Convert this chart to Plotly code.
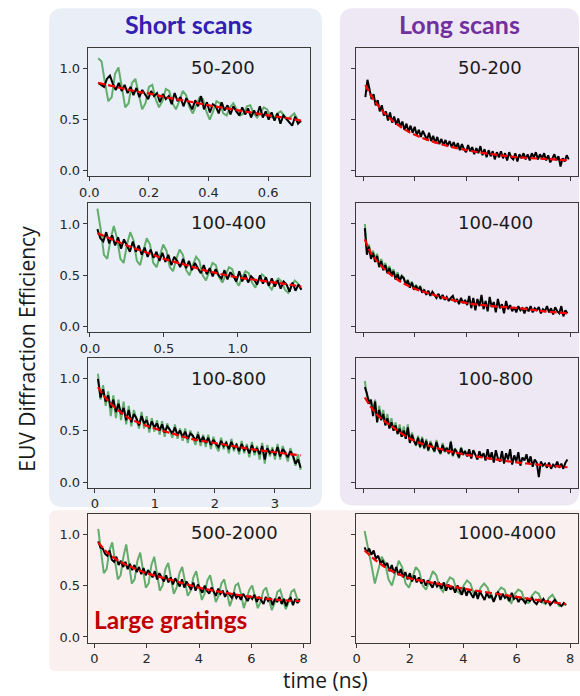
import numpy as np
import plotly.graph_objects as go

W, H = 580, 696

# ---------------- data ----------------
# Short scans, 50-200
a_t = (0.03, 0.71)
a_black = [0.86,0.84,0.82,0.90,0.93,0.85,0.79,0.86,0.78,0.84,
           0.76,0.82,0.74,0.81,0.72,0.79,0.75,0.70,0.78,0.73,
           0.76,0.67,0.75,0.70,0.73,0.65,0.76,0.68,0.72,0.63,
           0.71,0.66,0.60,0.69,0.63,0.73,0.60,0.67,0.57,0.65,
           0.63,0.56,0.67,0.59,0.64,0.55,0.63,0.58,0.54,0.62,
           0.55,0.61,0.52,0.59,0.54,0.63,0.52,0.58,0.50,0.57,
           0.49,0.56,0.46,0.54,0.51,0.48,0.44,0.53,0.46,0.49]
a_green = [1.10,1.07,0.86,0.68,0.72,0.95,1.01,0.82,0.62,0.66,
           0.86,0.90,0.74,0.60,0.66,0.82,0.84,0.70,0.62,0.68,
           0.80,0.78,0.66,0.60,0.68,0.78,0.74,0.62,0.56,0.64,
           0.72,0.70,0.58,0.50,0.58,0.68,0.66,0.56,0.54,0.62,
           0.66,0.60,0.54,0.56,0.63,0.64,0.56,0.52,0.57,0.62,
           0.60,0.53,0.51,0.56,0.58,0.54,0.50,0.53,0.56,0.50,0.47]
a_fit_t = [0.03,0.09,0.15,0.21,0.27,0.33,0.40,0.46,0.52,0.58,0.65,0.71]
a_fit = [0.86,0.82,0.78,0.75,0.71,0.68,0.64,0.61,0.58,0.55,0.52,0.49]

# Short scans, 100-400
b_t = (0.05, 1.43)
b_black = [0.95,0.86,0.83,0.92,0.81,0.89,0.79,0.87,0.76,0.85,
           0.79,0.73,0.83,0.73,0.79,0.70,0.77,0.68,0.75,0.67,
           0.73,0.64,0.72,0.63,0.70,0.60,0.68,0.64,0.58,0.66,
           0.57,0.64,0.55,0.62,0.57,0.52,0.60,0.51,0.57,0.49,
           0.56,0.50,0.47,0.55,0.46,0.53,0.49,0.44,0.54,0.44,
           0.51,0.43,0.49,0.46,0.41,0.50,0.42,0.48,0.40,0.47,
           0.39,0.45,0.37,0.44,0.41,0.34,0.43,0.35,0.41,0.36]
b_green = [1.15,0.95,0.70,0.66,0.85,0.98,0.86,0.66,0.62,0.80,
           0.92,0.84,0.64,0.60,0.74,0.86,0.80,0.62,0.58,0.70,
           0.80,0.74,0.58,0.54,0.66,0.75,0.70,0.55,0.50,0.60,
           0.68,0.64,0.50,0.45,0.54,0.62,0.60,0.48,0.43,0.50,
           0.58,0.56,0.45,0.40,0.48,0.54,0.52,0.43,0.38,0.45,
           0.51,0.48,0.40,0.36,0.43,0.47,0.44,0.36,0.33,0.40,
           0.45,0.42,0.36]
b_fit_t = [0.05,0.15,0.25,0.35,0.50,0.65,0.80,1.00,1.15,1.30,1.43]
b_fit = [0.91,0.85,0.79,0.74,0.66,0.60,0.54,0.48,0.45,0.42,0.39]

# Short scans, 100-800
c_t = (0.05, 3.43)
c_black = [1.00,0.82,0.90,0.78,0.84,0.72,0.80,0.68,0.76,0.66,
           0.72,0.60,0.70,0.58,0.66,0.62,0.55,0.64,0.57,0.60,
           0.52,0.59,0.53,0.57,0.50,0.56,0.48,0.54,0.51,0.47,
           0.53,0.46,0.50,0.44,0.49,0.42,0.47,0.45,0.40,0.46,
           0.39,0.44,0.38,0.43,0.36,0.41,0.37,0.34,0.40,0.35,
           0.38,0.32,0.39,0.33,0.36,0.30,0.37,0.31,0.34,0.28,
           0.36,0.29,0.33,0.27,0.35,0.22,0.33,0.28,0.31,0.26,
           0.34,0.25,0.32,0.29,0.24,0.30,0.26,0.18,0.22,0.14]
c_green = [1.05,0.80,0.94,0.74,0.88,0.64,0.84,0.62,0.80,0.60,
           0.78,0.56,0.74,0.54,0.70,0.60,0.52,0.68,0.52,0.64,
           0.48,0.62,0.49,0.60,0.46,0.59,0.44,0.57,0.50,0.43,
           0.56,0.42,0.52,0.40,0.52,0.38,0.50,0.44,0.36,0.49,
           0.35,0.46,0.34,0.46,0.32,0.44,0.35,0.30,0.43,0.32,
           0.40,0.28,0.42,0.30,0.38,0.27,0.40,0.28,0.37,0.24,
           0.39,0.26,0.35,0.22,0.38,0.18,0.36,0.25,0.34,0.22,
           0.37,0.22,0.35,0.28,0.20,0.33,0.24,0.16,0.27,0.12]
c_fit_t = [0.05,0.2,0.4,0.6,0.8,1.0,1.3,1.6,2.0,2.5,3.0,3.43]
c_fit = [0.92,0.80,0.69,0.61,0.56,0.52,0.47,0.42,0.38,0.33,0.29,0.26]

# Large gratings, 500-2000
d_t = (0.15, 7.85)
d_black = [0.93,0.87,0.86,0.81,0.79,0.84,0.75,0.73,0.78,0.70,
           0.74,0.68,0.73,0.66,0.71,0.65,0.70,0.63,0.68,0.61,
           0.67,0.60,0.65,0.62,0.58,0.64,0.56,0.62,0.58,0.54,
           0.60,0.53,0.58,0.51,0.57,0.53,0.49,0.56,0.48,0.54,
           0.50,0.46,0.53,0.45,0.51,0.47,0.43,0.50,0.45,0.42,
           0.48,0.44,0.40,0.47,0.42,0.45,0.39,0.44,0.41,0.38,
           0.43,0.38,0.41,0.36,0.42,0.38,0.35,0.40,0.37,0.41,
           0.34,0.39,0.36,0.32,0.39,0.35,0.38,0.31,0.37,0.34,
           0.39,0.32,0.37,0.30,0.36,0.38,0.31,0.37,0.33,0.37]
d_green = [1.05,0.84,0.62,0.66,0.84,0.92,0.74,0.56,0.60,0.78,
           0.90,0.70,0.52,0.56,0.74,0.82,0.64,0.48,0.52,0.70,
           0.78,0.60,0.45,0.50,0.66,0.72,0.56,0.42,0.48,0.62,
           0.68,0.54,0.40,0.45,0.58,0.64,0.50,0.36,0.42,0.55,
           0.60,0.47,0.34,0.40,0.52,0.56,0.44,0.30,0.38,0.50,
           0.52,0.42,0.28,0.36,0.46,0.50,0.40,0.28,0.34,0.45,
           0.48,0.38,0.26,0.33,0.44,0.46,0.36,0.27,0.34,0.44,
           0.46,0.38,0.34]
d_fit_t = [0.15,0.5,1.0,1.5,2.0,3.0,4.0,5.0,6.0,7.0,7.85]
d_fit = [0.92,0.82,0.73,0.67,0.62,0.55,0.48,0.43,0.39,0.36,0.35]

# Long scans, 50-200
e_t = (0.09, 7.95)
e_black = [0.72,0.89,0.80,0.70,0.75,0.64,0.69,0.58,0.64,0.54,
           0.58,0.49,0.57,0.47,0.53,0.45,0.51,0.43,0.48,0.40,
           0.46,0.38,0.44,0.37,0.43,0.35,0.40,0.33,0.39,0.35,
           0.30,0.37,0.29,0.34,0.27,0.33,0.26,0.31,0.25,0.30,
           0.24,0.29,0.23,0.28,0.22,0.27,0.20,0.26,0.21,0.18,
           0.25,0.19,0.23,0.16,0.22,0.17,0.24,0.15,0.21,0.13,
           0.20,0.14,0.19,0.11,0.18,0.13,0.19,0.12,0.17,0.10,
           0.18,0.13,0.11,0.17,0.09,0.16,0.12,0.17,0.11,0.16,
           0.10,0.17,0.13,0.18,0.11,0.16,0.12,0.17,0.10,0.15,
           0.08,0.12,0.16,0.10,0.14,0.04,0.12,0.09,0.15,0.11]
e_green = []
e_fit_t = [0.09,0.3,0.6,1.0,1.5,2.0,3.0,4.0,5.0,6.0,7.0,7.95]
e_fit = [0.84,0.74,0.63,0.52,0.42,0.35,0.26,0.20,0.16,0.13,0.115,0.10]

# Long scans, 100-400
f_t = (0.07, 7.9)
f_black = [0.96,0.70,0.78,0.66,0.72,0.63,0.69,0.58,0.64,0.55,
           0.60,0.52,0.57,0.50,0.54,0.46,0.51,0.44,0.49,0.47,
           0.41,0.45,0.38,0.43,0.36,0.40,0.35,0.39,0.33,0.36,
           0.31,0.35,0.30,0.34,0.31,0.28,0.32,0.27,0.31,0.26,
           0.29,0.25,0.28,0.30,0.24,0.27,0.22,0.28,0.23,0.26,
           0.21,0.30,0.18,0.28,0.16,0.27,0.20,0.31,0.17,0.25,
           0.15,0.29,0.19,0.24,0.14,0.27,0.18,0.22,0.13,0.25,
           0.17,0.21,0.15,0.19,0.14,0.20,0.16,0.18,0.13,0.19,
           0.15,0.20,0.14,0.18,0.16,0.19,0.13,0.17,0.15,0.20,
           0.14,0.18,0.12,0.19,0.15,0.13,0.20,0.10,0.16,0.13]
f_green = [1.00,0.74,0.80,0.69,0.74,0.66,0.71,0.60,0.66,0.58,
           0.62,0.55,0.59,0.52,0.56,0.48,0.53,0.46,0.50,0.48,
           0.42,0.46,0.39,0.44,0.37,0.41,0.36,0.40,0.34,0.37]
f_fit_t = [0.07,0.3,0.6,1.0,1.5,2.0,3.0,4.0,5.0,6.0,7.0,7.9]
f_fit = [0.85,0.72,0.62,0.52,0.43,0.37,0.29,0.23,0.20,0.18,0.15,0.13]

# Long scans, 100-800
g_t = (0.07, 7.9)
g_black = [0.92,0.86,0.76,0.80,0.64,0.78,0.58,0.70,0.60,0.66,
           0.55,0.62,0.52,0.58,0.50,0.55,0.47,0.52,0.44,0.50,
           0.42,0.53,0.38,0.46,0.40,0.36,0.43,0.34,0.42,0.33,
           0.40,0.31,0.38,0.34,0.30,0.39,0.32,0.28,0.36,0.30,
           0.33,0.28,0.39,0.26,0.32,0.29,0.24,0.33,0.27,0.30,
           0.25,0.32,0.23,0.31,0.26,0.22,0.30,0.24,0.28,0.21,
           0.32,0.22,0.29,0.19,0.31,0.23,0.20,0.30,0.18,0.28,
           0.22,0.32,0.17,0.26,0.20,0.29,0.16,0.24,0.21,0.27,
           0.18,0.25,0.15,0.22,0.19,0.05,0.20,0.16,0.18,0.14,
           0.19,0.13,0.17,0.15,0.20,0.14,0.18,0.13,0.19,0.22]
g_green = [0.98,0.84,0.80,0.78,0.68,0.80,0.60,0.74,0.62,0.70,
           0.56,0.66,0.53,0.62,0.50,0.58,0.46,0.56,0.44,0.54,
           0.42,0.56,0.38,0.48,0.41,0.35,0.45,0.33,0.44,0.32,
           0.42,0.30,0.40,0.34,0.29,0.41,0.31,0.27,0.38,0.29,
           0.34,0.27,0.40,0.25,0.33,0.28,0.23,0.34,0.26,0.31]
g_fit_t = [0.07,0.3,0.6,1.0,1.5,2.0,3.0,4.0,5.0,6.0,7.0,7.9]
g_fit = [0.82,0.73,0.64,0.56,0.47,0.40,0.32,0.265,0.225,0.19,0.165,0.145]

# Large gratings, 1000-4000
h_t = (0.3, 7.85)
h_black = [0.87,0.82,0.86,0.80,0.84,0.76,0.79,0.72,0.74,0.69,
           0.72,0.64,0.70,0.62,0.68,0.60,0.66,0.58,0.63,0.56,
           0.62,0.54,0.60,0.53,0.58,0.52,0.56,0.50,0.55,0.51,
           0.48,0.54,0.49,0.52,0.47,0.53,0.45,0.51,0.46,0.49,
           0.43,0.50,0.45,0.41,0.48,0.40,0.46,0.42,0.38,0.45,
           0.37,0.44,0.40,0.36,0.43,0.38,0.41,0.34,0.40,0.44,
           0.36,0.42,0.38,0.40,0.35,0.43,0.37,0.39,0.34,0.38,
           0.36,0.33,0.37,0.35,0.38,0.34,0.32,0.36,0.34,0.37,
           0.33,0.35,0.31,0.34,0.36,0.33,0.32,0.30,0.33,0.31]
h_green = [1.03,0.88,0.70,0.52,0.66,0.78,0.72,0.56,0.50,0.62,
           0.74,0.68,0.52,0.48,0.58,0.68,0.64,0.50,0.46,0.56,
           0.64,0.60,0.48,0.44,0.52,0.58,0.56,0.45,0.42,0.50,
           0.55,0.52,0.42,0.40,0.48,0.52,0.48,0.38,0.36,0.44,
           0.48,0.46,0.36,0.33,0.42,0.46,0.44,0.34,0.33,0.40,
           0.44,0.42,0.34,0.32,0.38,0.41,0.36,0.30,0.31,0.32]
h_fit_t = [0.3,0.6,1.0,1.5,2.0,3.0,4.0,5.0,6.0,7.0,7.85]
h_fit = [0.84,0.77,0.69,0.62,0.57,0.52,0.47,0.43,0.39,0.35,0.32]

panel_names = ["50-200", "100-400", "100-800", "500-2000",
               "50-200", "100-400", "100-800", "1000-4000"]
y_ticks = [0.0, 0.5, 1.0]
x_ticks_left = [[0.0, 0.2, 0.4, 0.6], [0.0, 0.5, 1.0], [0, 1, 2, 3], [0, 2, 4, 6, 8]]
x_ticks_right = [0, 2, 4, 6, 8]

# ---------------- layout geometry (pixels) ----------------
def px_x(v):
    return v / W

def px_y(v):
    return 1 - v / H

col_px = [(80, 306), (352, 578.3)]
row_px = [(48.3, 176.7), (204, 333.3), (359.3, 489.3), (515, 644.5)]
x_ranges = [
    [[-0.005, 0.741], [-0.015, 1.49], [-0.12, 3.59], [-0.25, 8.25]],
    [[-0.29, 8.32], [-0.29, 8.32], [-0.29, 8.32], [-0.04, 8.31]],
]
y_range = [-0.055, 1.2]

# (time span of the sampled traces, black trace, green trace, fit times, fit values)
panels = [
    (a_t, a_black, a_green, a_fit_t, a_fit),
    (b_t, b_black, b_green, b_fit_t, b_fit),
    (c_t, c_black, c_green, c_fit_t, c_fit),
    (d_t, d_black, d_green, d_fit_t, d_fit),
    (e_t, e_black, e_green, e_fit_t, e_fit),
    (f_t, f_black, f_green, f_fit_t, f_fit),
    (g_t, g_black, g_green, g_fit_t, g_fit),
    (h_t, h_black, h_green, h_fit_t, h_fit),
]
# green traces that share the black time grid (recorded over the first part only)
partial_green = {5, 6}

GREEN = "#62ad6c"
AXIS = "#3a3a3a"
TICKFONT = dict(family="DejaVu Sans", size=13, color="#262626")

fig = go.Figure()
layout = {}

for k, (t_span, black, green, fit_t, fit) in enumerate(panels):
    col, row = divmod(k, 4)
    n = k + 1
    xa = "x" if n == 1 else f"x{n}"
    ya = "y" if n == 1 else f"y{n}"

    t_black = np.linspace(t_span[0], t_span[1], len(black))
    if green:
        if k in partial_green:
            t_green = t_black[:len(green)]
        else:
            t_green = np.linspace(t_span[0], t_span[1], len(green))
        fig.add_trace(go.Scatter(x=t_green, y=green, mode="lines", xaxis=xa, yaxis=ya,
                                 line=dict(color=GREEN, width=2), showlegend=False))
    fig.add_trace(go.Scatter(x=t_black, y=black, mode="lines", xaxis=xa, yaxis=ya,
                             line=dict(color="black", width=2), showlegend=False))
    fig.add_trace(go.Scatter(x=fit_t, y=fit, mode="lines", xaxis=xa, yaxis=ya,
                             line=dict(color="#ff0000", width=2.2, dash="7px,3px", shape="spline"),
                             showlegend=False))

    x0, x1 = col_px[col]
    y0, y1 = row_px[row]
    if col == 0:
        xt = x_ticks_left[row]
        show_x = True
        fmt = ".1f" if row < 2 else "d"
    else:
        xt = x_ticks_right
        show_x = row == 3
        fmt = "d"
    common = dict(showline=True, mirror=True, linecolor=AXIS, linewidth=1,
                  ticks="outside", ticklen=4, tickwidth=1, tickcolor=AXIS,
                  showgrid=False, zeroline=False, tickfont=TICKFONT)
    layout["xaxis" if n == 1 else f"xaxis{n}"] = dict(
        domain=[px_x(x0), px_x(x1)], range=x_ranges[col][row], anchor=ya,
        tickvals=xt, tickformat=fmt, showticklabels=show_x, **common)
    layout["yaxis" if n == 1 else f"yaxis{n}"] = dict(
        domain=[px_y(y1), px_y(y0)], range=y_range, anchor=xa,
        tickvals=y_ticks, tickformat=".1f", showticklabels=(col == 0), **common)

fig.update_layout(**layout)

# ---------------- background panels ----------------
def rounded_rect(x0, y0, x1, y1, r):
    def P(x, y):
        return f"{px_x(x):.5f},{px_y(y):.5f}"
    return (f"M {P(x0 + r, y0)} L {P(x1 - r, y0)} Q {P(x1, y0)} {P(x1, y0 + r)} "
            f"L {P(x1, y1 - r)} Q {P(x1, y1)} {P(x1 - r, y1)} "
            f"L {P(x0 + r, y1)} Q {P(x0, y1)} {P(x0, y1 - r)} "
            f"L {P(x0, y0 + r)} Q {P(x0, y0)} {P(x0 + r, y0)} Z")

shapes = [
    dict(type="path", path=rounded_rect(40.7, 8.3, 318, 508.5, 14),
         fillcolor="#e9eef7", line=dict(width=0), xref="paper", yref="paper", layer="below"),
    dict(type="path", path=rounded_rect(336, 8.3, 579, 507, 14),
         fillcolor="#eee8f4", line=dict(width=0), xref="paper", yref="paper", layer="below"),
    dict(type="path", path=rounded_rect(40.7, 511.7, 590, 673.3, 8),
         fillcolor="#fbf0f0", line=dict(width=0), xref="paper", yref="paper", layer="below"),
]

# ---------------- text ----------------
label_pos = [(183, 68), (183, 223.5), (183, 380), (183, 534),
             (454.3, 68), (454.3, 223.5), (454.3, 380), (454.3, 534)]
annotations = []
for name, (lx, ly) in zip(panel_names, label_pos):
    annotations.append(dict(text=name, x=px_x(lx), y=px_y(ly), xref="paper", yref="paper",
                            xanchor="left", yanchor="middle", showarrow=False,
                            font=dict(family="DejaVu Sans", size=18, color="#1a1a1a")))

annotations += [
    dict(text="<b>Short scans</b>", x=px_x(183), y=px_y(24), xref="paper", yref="paper",
         xanchor="center", yanchor="middle", showarrow=False,
         font=dict(family="Lato", size=25, color="#3320b0")),
    dict(text="<b>Long scans</b>", x=px_x(458), y=px_y(24), xref="paper", yref="paper",
         xanchor="center", yanchor="middle", showarrow=False,
         font=dict(family="Lato", size=25, color="#7030a0")),
    dict(text="<b>Large gratings</b>", x=px_x(84), y=px_y(621.5), xref="paper", yref="paper",
         xanchor="left", yanchor="middle", showarrow=False,
         font=dict(family="Lato", size=24.5, color="#c00000")),
    dict(text="EUV Diffraction Efficiency", x=px_x(18), y=px_y(350), xref="paper", yref="paper",
         xanchor="center", yanchor="middle", textangle=-90, showarrow=False,
         font=dict(family="Open Sans", size=21, color="#1a1a1a")),
    dict(text="time (ns)", x=px_x(321), y=px_y(682), xref="paper", yref="paper",
         xanchor="center", yanchor="middle", showarrow=False,
         font=dict(family="Open Sans", size=21, color="#1a1a1a")),
]

fig.update_layout(width=W, height=H, margin=dict(l=0, r=0, t=0, b=0),
                  paper_bgcolor="white", plot_bgcolor="rgba(0,0,0,0)",
                  shapes=shapes, annotations=annotations, showlegend=False)

# make the figure sit flush with the page edges
fig.write_html("out.html", post_script="document.body.style.margin='0';")
